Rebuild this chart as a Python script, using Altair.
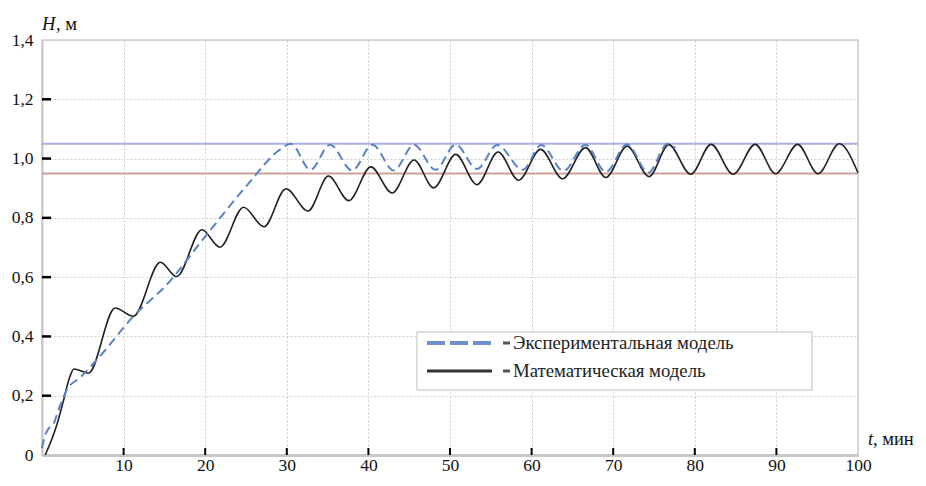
import altair as alt
import pandas as pd

# ---- data ----
# Mathematical model (black solid)
black_t = [0.4, 1.8, 2.6, 3.4, 3.9, 5.7, 8.96, 11.2, 14.5, 16.5, 19.6, 21.8, 24.7, 27.2,
           29.9, 32.6, 35.1, 37.6, 40.3, 42.9, 45.6, 48.0, 50.7, 53.3, 55.9, 58.4,
           61.1, 63.8, 66.6, 69.1, 71.7, 74.4, 76.8, 79.5, 82.0, 84.7, 87.4, 89.9,
           92.6, 95.1, 97.7, 100.0]
black_h = [0.0, 0.10, 0.18, 0.263, 0.29, 0.276, 0.496, 0.468, 0.650, 0.602, 0.760, 0.701,
           0.836, 0.770, 0.898, 0.823, 0.941, 0.858, 0.972, 0.884, 0.995, 0.901, 1.014,
           0.912, 1.022, 0.927, 1.031, 0.932, 1.037, 0.936, 1.042, 0.939, 1.047, 0.947,
           1.048, 0.947, 1.048, 0.949, 1.048, 0.949, 1.050, 0.952]

# Experimental model (blue dashed)
blue_t = [0.0, 0.4, 1.0, 1.4, 2.0, 3.0, 4.7, 7.5, 11.2, 15.3, 19.8, 25.1, 29.2, 30.5,
          32.9, 35.3, 38.0, 40.5, 43.1, 45.6, 48.2, 50.7, 53.3, 55.8, 58.9, 61.2,
          63.9, 66.6, 69.1, 71.7, 74.3, 76.7, 77.6]
blue_h = [0.023, 0.068, 0.095, 0.105, 0.15, 0.218, 0.262, 0.346, 0.468, 0.575, 0.73,
          0.909, 1.031, 1.05, 0.962, 1.047, 0.96, 1.047, 0.96, 1.047, 0.962, 1.047,
          0.965, 1.046, 0.962, 1.046, 0.958, 1.047, 0.955, 1.048, 0.953, 1.05, 1.035]

# tolerance band lines
ref_levels = [0.95, 1.05]
ref_names = ["low", "high"]

# axis values
x_tick_vals = [10, 20, 30, 40, 50, 60, 70, 80, 90]
x_label_vals = [10, 20, 30, 40, 50, 60, 70, 80, 90, 100]
y_tick_vals = [0.2, 0.4, 0.6, 0.8, 1.0, 1.2]
y_label_vals = [0.0, 0.2, 0.4, 0.6, 0.8, 1.0, 1.2, 1.4]

legend_names = ["Экспериментальная модель", "Математическая модель"]
y_title = ["H", ", м"]
x_title = ["t", ", мин"]

# ---- build chart ----
W, H = 816, 415
FONT = "Liberation Serif"
FS = 17.5
LFS = 18.8

df_black = pd.DataFrame({"t": black_t, "H": black_h})
df_blue = pd.DataFrame({"t": blue_t, "H": blue_h})
df_ref = pd.DataFrame({"H": ref_levels, "name": ref_names})
df_xt = pd.DataFrame({"t": x_tick_vals})
df_yt = pd.DataFrame({"H": y_tick_vals})
one = pd.DataFrame({"a": [0]})

xscale = alt.Scale(domain=[0, 100], nice=False, zero=False)
yscale = alt.Scale(domain=[0, 1.4], nice=False)

xaxis = alt.Axis(values=x_label_vals, title=None, grid=True, gridColor="#cccccc",
                 gridDash=[2, 2], gridWidth=1, domainColor="#c8c8c8", domainWidth=3,
                 ticks=False, labelFont=FONT, labelFontSize=FS, labelColor="#111111",
                 labelPadding=1, labelFlush=False)
yaxis = alt.Axis(values=y_label_vals, title=None, grid=True, gridColor="#cccccc",
                 gridDash=[2, 2], gridWidth=1, domainColor="#c8c8c8", domainWidth=2,
                 ticks=False, labelFont=FONT, labelFontSize=FS, labelColor="#111111",
                 labelPadding=9, labelFlush=False, labelBaseline="middle",
                 labelExpr="datum.value == 0 ? '0' : replace(format(datum.value, '.1f'), '.', ',')")

refs = alt.Chart(df_ref).mark_rule(strokeWidth=2).encode(
    y=alt.Y("H:Q", scale=yscale, axis=yaxis),
    color=alt.Color("name:N", scale=alt.Scale(domain=ref_names, range=["#c9a29c", "#aab0e0"]),
                    legend=None),
)

black = alt.Chart(df_black).mark_line(color="#222222", strokeWidth=1.6,
                                      interpolate="monotone").encode(
    x=alt.X("t:Q", scale=xscale, axis=xaxis),
    y=alt.Y("H:Q", scale=yscale),
)

blue = alt.Chart(df_blue).mark_line(color="#5b82c2", strokeWidth=2, strokeDash=[9, 5],
                                    interpolate="monotone").encode(
    x=alt.X("t:Q", scale=xscale),
    y=alt.Y("H:Q", scale=yscale),
)

xticks = alt.Chart(df_xt).mark_rule(color="black", strokeWidth=2).encode(
    x=alt.X("t:Q", scale=xscale), y=alt.value(H - 7), y2=alt.value(H))
yticks = alt.Chart(df_yt).mark_rule(color="black", strokeWidth=2.5).encode(
    y=alt.Y("H:Q", scale=yscale), x=alt.value(0), x2=alt.value(9))

# legend (drawn box)
leg_box = alt.Chart(one).mark_rect(fill="white", stroke="#bdbdbd", strokeWidth=1).encode(
    x=alt.value(375), x2=alt.value(770), y=alt.value(292), y2=alt.value(350))
leg_sym1 = alt.Chart(one).mark_rule(color="#6d8fcc", strokeWidth=4, strokeDash=[18, 5]).encode(
    x=alt.value(385), x2=alt.value(449), y=alt.value(303))
leg_sym2 = alt.Chart(one).mark_rule(color="#333333", strokeWidth=3).encode(
    x=alt.value(385), x2=alt.value(450), y=alt.value(331))
leg_d1 = alt.Chart(one).mark_rule(color="#555555", strokeWidth=3).encode(
    x=alt.value(461), x2=alt.value(468), y=alt.value(303))
leg_d2 = alt.Chart(one).mark_rule(color="#555555", strokeWidth=3).encode(
    x=alt.value(461), x2=alt.value(468), y=alt.value(331))
leg_t1 = alt.Chart(one).mark_text(text=legend_names[0], font=FONT, fontSize=LFS, align="left",
                                  baseline="middle", color="#222222").encode(
    x=alt.value(471), y=alt.value(303))
leg_t2 = alt.Chart(one).mark_text(text=legend_names[1], font=FONT, fontSize=LFS, align="left",
                                  baseline="middle", color="#222222").encode(
    x=alt.value(471), y=alt.value(331))

# axis titles
yt1 = alt.Chart(one).mark_text(text=y_title[0], font=FONT, fontSize=18.5, fontStyle="italic",
                               align="left", baseline="alphabetic", color="#111111").encode(
    x=alt.value(0), y=alt.value(-10))
yt2 = alt.Chart(one).mark_text(text=y_title[1], font=FONT, fontSize=18.5,
                               align="left", baseline="alphabetic", color="#111111").encode(
    x=alt.value(14), y=alt.value(-10))
xt1 = alt.Chart(one).mark_text(text=x_title[0], font=FONT, fontSize=18.5, fontStyle="italic",
                               align="left", baseline="alphabetic", color="#111111").encode(
    x=alt.value(826), y=alt.value(405))
xt2 = alt.Chart(one).mark_text(text=x_title[1], font=FONT, fontSize=18.5,
                               align="left", baseline="alphabetic", color="#111111").encode(
    x=alt.value(831), y=alt.value(405))

chart = alt.layer(
    refs, black, blue, xticks, yticks,
    leg_box, leg_sym1, leg_sym2, leg_d1, leg_d2, leg_t1, leg_t2,
    yt1, yt2, xt1, xt2,
).properties(
    width=W, height=H,
    padding={"left": 34, "top": 32, "right": 60, "bottom": 23},
    autosize=alt.AutoSizeParams(type="none"),
    background="white",
).configure_view(stroke="#d0d0d0", strokeWidth=1.5)

chart.save("out.html", embed_options={"renderer": "svg", "actions": False})
